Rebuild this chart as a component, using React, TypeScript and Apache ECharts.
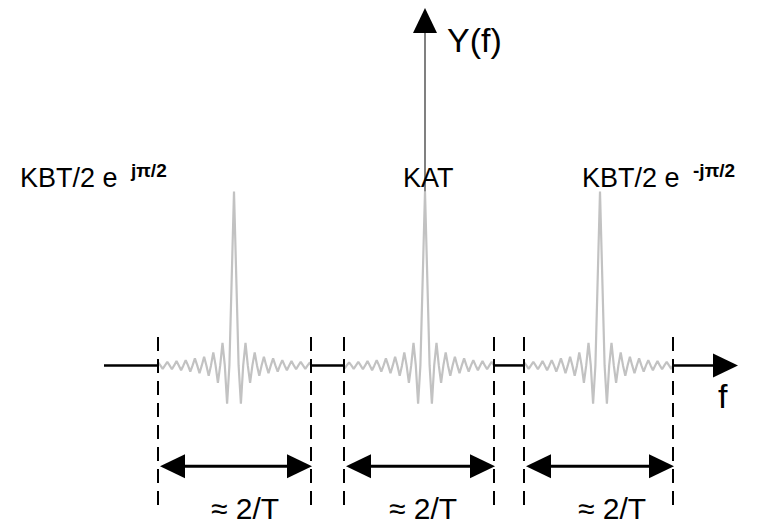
import React, { useEffect, useRef } from "react";
import * as echarts from "echarts";

// ---- data ----
const fAxisRange = [104, 738]; // start of f axis, arrow tip
const pulseCenters = [234, 425, 600];
const dashedLines = [158, 311, 344, 494, 524, 673];
const lobeSpacing = 4.6;
const peakValue = 1;
const sideLobes = [
  -0.22, 0.13, -0.1, 0.075, -0.06, 0.05, -0.045, 0.04, -0.035, 0.03, -0.028,
  0.025, -0.022, 0.02, -0.02, 0.018, -0.018,
];
const peakLabels = ["KBT/2 e ", "KAT", "KBT/2 e "];
const peakSuperscripts = ["jπ/2", "", "-jπ/2"];
const peakLabelX = [20, 403, 582];
const spanLabels = ["≈ 2/T", "≈ 2/T", "≈ 2/T"];
const spanLabelX = [245, 423, 612];
const yAxisName = "Y(f)";
const fAxisName = "f";

// ---- layout (data units) ----
const Y_MIN = -0.94;
const Y_MAX = 2.1;
const Y_ARROW_TIP = 2.054;
const LABEL_Y = 1.077;
const YNAME_X = 447;
const YNAME_Y = 1.87;
const FNAME_X = 718;
const FNAME_Y = -0.176;
const DASH_TOP = 0.163;
const DASH_BOTTOM = -0.814;
const SPAN_ARROW_Y = -0.58;
const SPAN_LABEL_Y = -0.825;
const ARROW_LEN = 25;
const ARROW_HALF = 12;
const FONT = "'Liberation Sans', Arial, sans-serif";

const windows = [0, 1, 2].map((i) => [dashedLines[2 * i], dashedLines[2 * i + 1]]);

function side(limit: number): number[][] {
  const pts: number[][] = [];
  if (lobeSpacing < limit) pts.push([lobeSpacing, 0]);
  for (let k = 0; k < sideLobes.length; k++) {
    const ext = (k + 1.5) * lobeSpacing;
    if (ext >= limit) break;
    pts.push([ext, sideLobes[k]]);
    const z = (k + 2) * lobeSpacing;
    if (z >= limit) break;
    pts.push([z, 0]);
  }
  pts.push([limit, 0]);
  return pts;
}

function pulseData(i: number): number[][] {
  const c = pulseCenters[i];
  const [lo, hi] = windows[i];
  const left = side(c - lo).map(([d, v]) => [c - d, v]).reverse();
  const right = side(hi - c).map(([d, v]) => [c + d, v]);
  return [...left, [c, peakValue], ...right];
}

const axisSegments = [
  [fAxisRange[0], dashedLines[0]],
  [dashedLines[1], dashedLines[2]],
  [dashedLines[3], dashedLines[4]],
  [dashedLines[5], fAxisRange[1]],
];

function arrowHead(tip: number[], dir: number[], fill = "#000") {
  const [dx, dy] = dir;
  const px = -dy;
  const py = dx;
  const bx = tip[0] - dx * ARROW_LEN;
  const by = tip[1] - dy * ARROW_LEN;
  return {
    type: "polygon",
    shape: {
      points: [
        [tip[0], tip[1]],
        [bx + px * ARROW_HALF, by + py * ARROW_HALF],
        [bx - px * ARROW_HALF, by - py * ARROW_HALF],
      ],
    },
    style: { fill },
  };
}

const baseCustom = { type: "custom", silent: true, animation: false, clip: false };

const option: any = {
  animation: false,
  backgroundColor: "#fff",
  grid: { left: 0, right: 0, top: 0, bottom: 0 },
  xAxis: { type: "value", min: 0, max: 759, show: false },
  yAxis: { type: "value", min: Y_MIN, max: Y_MAX, show: false },
  series: [
    // f axis (black segments outside the pulse windows)
    {
      ...baseCustom,
      name: "fAxis",
      z: 3,
      data: axisSegments,
      renderItem: (_p: any, api: any) => {
        const a = api.coord([api.value(0), 0]);
        const b = api.coord([api.value(1), 0]);
        const isLast = _p.dataIndex === axisSegments.length - 1;
        const children: any[] = [
          {
            type: "line",
            shape: { x1: a[0], y1: a[1], x2: isLast ? b[0] - ARROW_LEN + 2 : b[0], y2: b[1] },
            style: { stroke: "#000", lineWidth: 2.5 },
          },
        ];
        if (isLast) children.push(arrowHead(b, [1, 0]));
        return { type: "group", children };
      },
    },
    // Y axis
    {
      ...baseCustom,
      name: "yAxis",
      z: 3,
      data: [[pulseCenters[1], Y_ARROW_TIP]],
      renderItem: (_p: any, api: any) => {
        const tip = api.coord([api.value(0), api.value(1)]);
        const bot = api.coord([api.value(0), peakValue]);
        return {
          type: "group",
          children: [
            {
              type: "line",
              shape: { x1: bot[0], y1: bot[1], x2: tip[0], y2: tip[1] + ARROW_LEN - 2 },
              style: { stroke: "#808080", lineWidth: 2 },
            },
            arrowHead(tip, [0, -1]),
          ],
        };
      },
    },
    // pulses
    ...[0, 1, 2].map((i) => ({
      type: "line",
      name: "pulse" + i,
      data: pulseData(i),
      showSymbol: false,
      symbol: "none",
      silent: true,
      animation: false,
      z: 2,
      lineStyle: { color: "#c2c2c2", width: 2.2 },
    })),
    // dashed lines
    {
      ...baseCustom,
      name: "dashes",
      z: 4,
      data: dashedLines.map((x) => [x, DASH_TOP]),
      renderItem: (_p: any, api: any) => {
        const a = api.coord([api.value(0), DASH_TOP]);
        const b = api.coord([api.value(0), DASH_BOTTOM]);
        return {
          type: "line",
          shape: { x1: a[0], y1: a[1], x2: b[0], y2: b[1] },
          style: { stroke: "#000", lineWidth: 2, lineDash: [14, 8] },
        };
      },
    },
    // span double arrows
    {
      ...baseCustom,
      name: "spans",
      z: 5,
      data: windows,
      renderItem: (_p: any, api: any) => {
        const a = api.coord([api.value(0), SPAN_ARROW_Y]);
        const b = api.coord([api.value(1), SPAN_ARROW_Y]);
        a[0] += 2;
        b[0] += 1;
        return {
          type: "group",
          children: [
            {
              type: "line",
              shape: { x1: a[0] + 5, y1: a[1], x2: b[0] - 5, y2: b[1] },
              style: { stroke: "#000", lineWidth: 3 },
            },
            arrowHead(a, [-1, 0]),
            arrowHead(b, [1, 0]),
          ],
        };
      },
    },
    // peak labels
    {
      ...baseCustom,
      name: "peakLabels",
      z: 6,
      data: peakLabelX.map((x) => [x, LABEL_Y]),
      renderItem: (p: any, api: any) => {
        const pt = api.coord([api.value(0), api.value(1)]);
        const i = p.dataIndex;
        const sup = peakSuperscripts[i];
        return {
          type: "text",
          x: pt[0],
          y: pt[1],
          style: {
            text: `{m|${peakLabels[i]}}` + (sup ? `{s|${sup}}` : ""),
            textAlign: "left",
            textVerticalAlign: "middle",
            fill: "#000",
            rich: {
              m: { fontSize: 27, fontFamily: FONT, lineHeight: 34, fill: "#000" },
              s: {
                fontSize: 19,
                fontWeight: "bold",
                fontFamily: FONT,
                lineHeight: 18,
                verticalAlign: "top",
                padding: [0, 0, 0, 6],
                fill: "#000",
              },
            },
          },
        };
      },
    },
    // span labels
    {
      ...baseCustom,
      name: "spanLabels",
      z: 6,
      data: spanLabelX.map((x) => [x, SPAN_LABEL_Y]),
      renderItem: (p: any, api: any) => {
        const pt = api.coord([api.value(0), api.value(1)]);
        return {
          type: "text",
          x: pt[0],
          y: pt[1],
          style: {
            text: spanLabels[p.dataIndex],
            textAlign: "center",
            textVerticalAlign: "middle",
            fill: "#000",
            fontSize: 30,
            fontFamily: FONT,
          },
        };
      },
    },
    // axis names
    {
      ...baseCustom,
      name: "axisNames",
      z: 6,
      data: [
        [YNAME_X, YNAME_Y],
        [FNAME_X, FNAME_Y],
      ],
      renderItem: (p: any, api: any) => {
        const pt = api.coord([api.value(0), api.value(1)]);
        return {
          type: "text",
          x: pt[0],
          y: pt[1],
          style: {
            text: p.dataIndex === 0 ? yAxisName : fAxisName,
            textAlign: "left",
            textVerticalAlign: "middle",
            fill: "#000",
            fontSize: 34,
            fontFamily: FONT,
          },
        };
      },
    },
  ],
};

export default function App() {
  const ref = useRef<HTMLDivElement>(null);
  useEffect(() => {
    document.body.style.margin = "0";
    const chart = echarts.init(ref.current as HTMLDivElement, null, { renderer: "svg" });
    chart.setOption(option);
    return () => chart.dispose();
  }, []);
  return <div ref={ref} style={{ width: 759, height: 529 }} />;
}
